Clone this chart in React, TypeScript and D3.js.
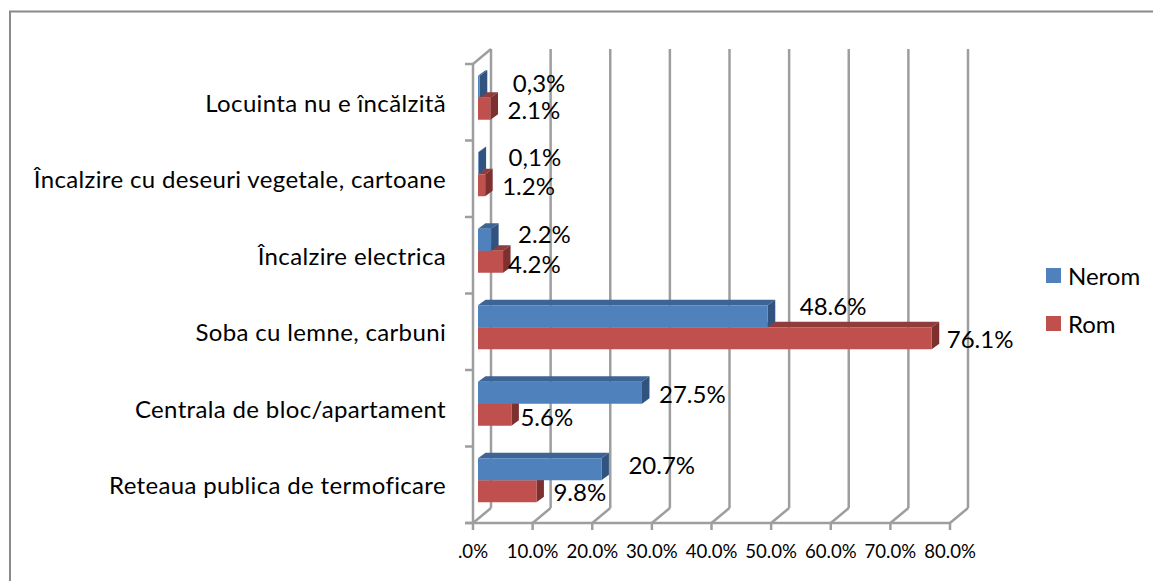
import React from "react";
import * as d3 from "d3";

const categories = [
  "Locuinta nu e încălzită",
  "Încalzire cu deseuri vegetale, cartoane",
  "Încalzire electrica",
  "Soba cu lemne, carbuni",
  "Centrala de bloc/apartament",
  "Reteaua publica de termoficare",
];
const seriesNames = ["Nerom", "Rom"];
const nerom = [0.3, 0.1, 2.2, 48.6, 27.5, 20.7];
const rom = [2.1, 1.2, 4.2, 76.1, 5.6, 9.8];
const neromLabels = ["0,3%", "0,1%", "2.2%", "48.6%", "27.5%", "20.7%"];
const romLabels = ["2.1%", "1.2%", "4.2%", "76.1%", "5.6%", "9.8%"];
const xTicks = [0, 10, 20, 30, 40, 50, 60, 70, 80];
const xTickLabels = [".0%", "10.0%", "20.0%", "30.0%", "40.0%", "50.0%", "60.0%", "70.0%", "80.0%"];

// label placement relative to the bar end / band centre (layout only)
const neromLabelOffset: [number, number][] = [[33, -15], [30, -18], [27, -17], [32, -22], [17, -10], [27, -16]];
const romLabelOffset: [number, number][] = [[17, 12], [17, 11], [5, 13], [15, 11], [9, 13], [17, 11]];

const FONT = "Lato, Carlito, Calibri, sans-serif";
const GRID = "#9e9e9e";
const BLUE = { front: "#4F81BD", top: "#3C6595", side: "#30547F" };
const RED = { front: "#C0504D", top: "#8F3C3A", side: "#7E302E" };
const DX = 18, DY = 15; // chart wall depth
const BX = 7.5, BY = 5.5; // bar depth

const x = d3.scaleLinear().domain([0, 80]).range([473, 950]);
const y = d3.scaleBand<string>().domain(categories).range([64, 523]);
const barX0 = 478;
const barLen = (v: number) => x(v) - x(0);
const barH = 22;

function Bar({ v, yTop, c }: { v: number; yTop: number; c: typeof BLUE }) {
  const x1 = barX0 + barLen(v);
  const y1 = yTop + barH;
  return (
    <g>
      <polygon fill={c.top} points={`${barX0},${yTop} ${barX0 + BX},${yTop - BY} ${x1 + BX},${yTop - BY} ${x1},${yTop}`} />
      <polygon fill={c.side} points={`${x1},${yTop} ${x1 + BX},${yTop - BY} ${x1 + BX},${y1 - BY} ${x1},${y1}`} />
      <rect x={barX0} y={yTop} width={Math.max(0, x1 - barX0)} height={barH} fill={c.front} />
    </g>
  );
}

export default function App() {
  const step = y.step();
  const yTicks = [...categories.map((c) => y(c) as number), 523];
  const centre = (c: string) => (y(c) as number) + step / 2 - 4.5;
  return (
    <svg width={1153} height={581} style={{ position: "absolute", left: 0, top: 0, background: "#fff" }} fontFamily={FONT}>
      <path d="M10,581V11.5H1153" fill="none" stroke="#8a8a8a" strokeWidth={2} />

      {/* walls and grid */}
      <g stroke={GRID} strokeWidth={2.5} fill="none">
        <line x1={x(0)} x2={x(0)} y1={64} y2={523} />
        <line x1={x(0)} x2={x(0) + DX} y1={64} y2={64 - DY} />
        {xTicks.map((t) => (
          <g key={t}>
            <line x1={x(t) + DX} x2={x(t) + DX} y1={64 - DY} y2={523 - DY} />
            <line x1={x(t)} x2={x(t) + DX} y1={523} y2={523 - DY} />
            <line x1={x(t)} x2={x(t)} y1={523} y2={530} />
          </g>
        ))}
        <line x1={465} x2={x(80)} y1={523} y2={523} />
        {yTicks.map((t) => (
          <line key={t} x1={465} x2={x(0)} y1={t} y2={t} />
        ))}
      </g>

      {/* bars */}
      {categories.map((c, i) => (
        <g key={c}>
          <Bar v={rom[i]} yTop={centre(c)} c={RED} />
          <Bar v={nerom[i]} yTop={centre(c) - barH} c={BLUE} />
        </g>
      ))}

      {/* category labels */}
      <g fontSize={24} letterSpacing={0.35} fill="#000" textAnchor="end" dominantBaseline="central">
        {categories.map((c) => (
          <text key={c} x={446} y={(y(c) as number) + step / 2}>{c}</text>
        ))}
      </g>

      {/* value labels */}
      <g fontSize={24} fill="#000" dominantBaseline="central">
        {categories.map((c, i) => (
          <g key={c}>
            <text x={barX0 + barLen(nerom[i]) + neromLabelOffset[i][0]} y={centre(c) + neromLabelOffset[i][1]}>{neromLabels[i]}</text>
            <text x={barX0 + barLen(rom[i]) + romLabelOffset[i][0]} y={centre(c) + romLabelOffset[i][1]}>{romLabels[i]}</text>
          </g>
        ))}
      </g>

      {/* x tick labels */}
      <g fontSize={18.6} fill="#000" textAnchor="middle" dominantBaseline="central">
        {xTicks.map((t, i) => (
          <text key={t} x={x(t)} y={551}>{xTickLabels[i]}</text>
        ))}
      </g>

      {/* legend */}
      {seriesNames.map((s, i) => (
        <g key={s}>
          <rect x={1046} y={268 + i * 48} width={15} height={15} fill={i === 0 ? BLUE.front : RED.front} />
          <text x={1068} y={275 + i * 48} fontSize={24} dominantBaseline="central" fill="#000">{s}</text>
        </g>
      ))}
    </svg>
  );
}
